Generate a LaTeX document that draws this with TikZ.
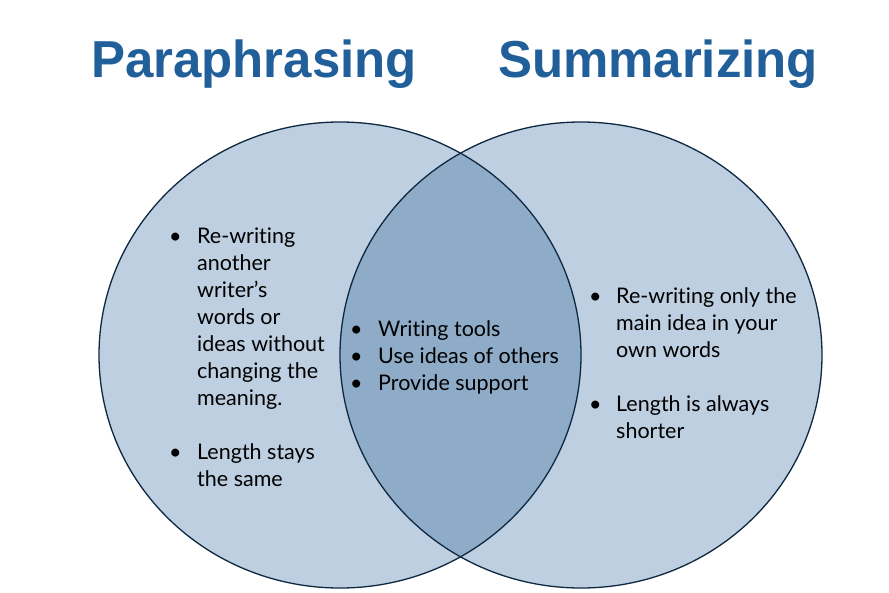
\documentclass[tikz,border=0pt]{standalone}
\usepackage{fontspec}
\setmainfont[Ligatures=NoCommon]{Lato}
\newfontfamily\headfont[FakeStretch=0.98]{Liberation Sans}
\definecolor{vennfill}{RGB}{189,207,224}
\definecolor{vennmix}{RGB}{142,172,200}
\definecolor{vennline}{RGB}{14,40,65}
\definecolor{headblue}{RGB}{33,95,154}
\begin{document}
\begin{tikzpicture}[x=1pt, y=-1pt,
    head/.style={anchor=base, inner sep=0pt, text=headblue, font=\headfont\bfseries\fontsize{52}{60}\selectfont},
    points/.style={anchor=base west, inner sep=0pt, font=\fontsize{21.5}{27}\selectfont}]
  \useasboundingbox (0,0) rectangle (889,592);
  \fill[vennfill] (340,355) ellipse [x radius=241, y radius=233];
  \fill[vennfill] (581,355) ellipse [x radius=241, y radius=233];
  \begin{scope}
    \clip (340,355) ellipse [x radius=241, y radius=233];
    \fill[vennmix] (581,355) ellipse [x radius=241, y radius=233];
  \end{scope}
  \draw[vennline, line width=1.3pt] (340,355) ellipse [x radius=241, y radius=233];
  \draw[vennline, line width=1.3pt] (581,355) ellipse [x radius=241, y radius=233];
  \node[head] (para) at (254,77) {Paraphrasing};
  \node[head] (summ) at (658,77) {Summarizing};
  \node[points] (paralist) at (169,243) {\begin{tabular}[t]{@{}p{28pt}@{}l@{}}
    \textbullet & Re-writing\\
    & another\\
    & writer’s\\
    & words or\\
    & ideas without\\
    & changing the\\
    & meaning.\\
    & \\
    \textbullet & Length stays\\
    & the same
  \end{tabular}};
  \node[points] (bothlist) at (350,336) {\begin{tabular}[t]{@{}p{28pt}@{}l@{}}
    \textbullet & Writing tools\\
    \textbullet & Use ideas of others\\
    \textbullet & Provide support
  \end{tabular}};
  \node[points] (summlist) at (589,303) {\begin{tabular}[t]{@{}p{27pt}@{}l@{}}
    \textbullet & Re-writing only the\\
    & main idea in your\\
    & own words\\
    & \\
    \textbullet & Length is always\\
    & shorter
  \end{tabular}};
\end{tikzpicture}
\end{document}
